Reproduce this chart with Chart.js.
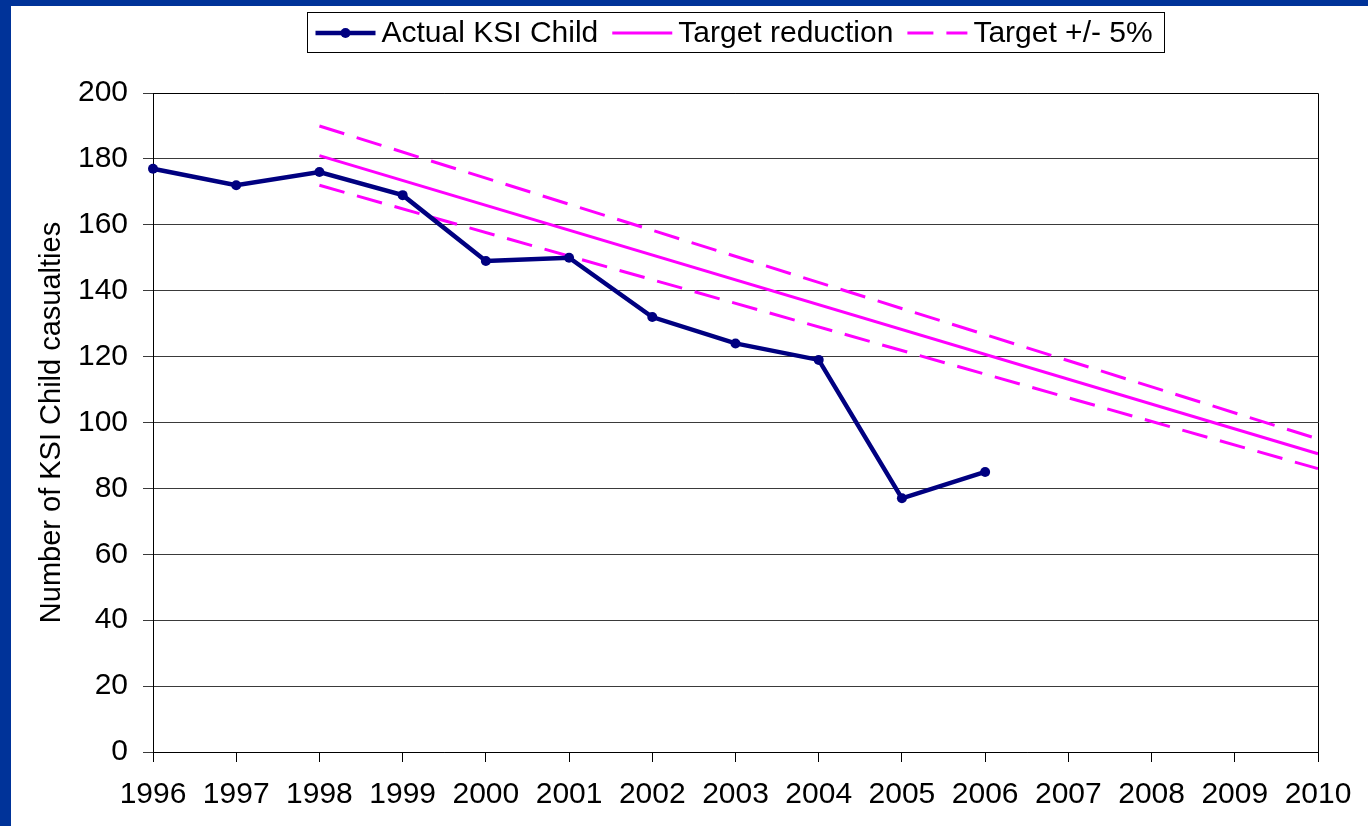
<!DOCTYPE html>
<html>
<head>
<meta charset="utf-8">
<script src="https://cdn.jsdelivr.net/npm/chart.js@4.4.1/dist/chart.umd.min.js"></script>
<style>
  html, body { margin: 0; padding: 0; background: #003399; overflow: hidden; }
  #frame { position: absolute; left: 11px; top: 6px; width: 1357px; height: 820px; background: #ffffff; }
</style>
</head>
<body>
<div id="frame"><canvas id="ksiChart" width="1357" height="820"></canvas></div>
<script>
// Values
const years = ['1996', '1997', '1998', '1999', '2000', '2001', '2002', '2003', '2004', '2005', '2006', '2007', '2008', '2009', '2010'];
const actualKsi = [177, 172, 176, 169, 149, 150, 132, 124, 119, 77, 85, null, null, null, null];
// target lines are straight, so only their end points (1998 and 2010) are given
const targetReduction = [null, null, 181, null, null, null, null, null, null, null, null, null, null, null, 90.5];
const targetUpper = [null, null, 190, null, null, null, null, null, null, null, null, null, null, null, 95];
const targetLower = [null, null, 172, null, null, null, null, null, null, null, null, null, null, null, 86];
const yTicks = { min: 0, max: 200, step: 20 };

const FONT = '"Liberation Sans", Arial, sans-serif';
const NAVY = '#000080';
const MAGENTA = '#ff00ff';
const DASH = [26, 13];

// Draws the boxed legend above the plot, centred on the chart area.
const boxLegendPlugin = {
  id: 'boxLegend',
  afterDraw: (chart) => {
    const { ctx, chartArea } = chart;
    const items = chart.data.datasets.filter(ds => !ds.hideInLegend);
    const sampleLen = 60, gap = 6, itemGap = 14, padL = 8, padR = 12;
    const boxTop = 6, boxH = 40, midY = boxTop + boxH / 2 + 1;

    ctx.save();
    ctx.font = `30px ${FONT}`;
    const widths = items.map(ds => ctx.measureText(ds.label).width);
    let total = padL + padR;
    widths.forEach((w, i) => { total += sampleLen + gap + w + (i > 0 ? itemGap : 0); });

    const boxLeft = Math.round((chartArea.left + chartArea.right) / 2 - total / 2) + 0.5;
    ctx.strokeStyle = '#000000';
    ctx.lineWidth = 1;
    ctx.strokeRect(boxLeft, boxTop + 0.5, Math.round(total), boxH);

    let x = boxLeft + padL;
    items.forEach((ds, i) => {
      if (i > 0) x += itemGap;
      ctx.beginPath();
      ctx.strokeStyle = ds.borderColor;
      ctx.lineWidth = ds.borderWidth;
      ctx.setLineDash(ds.borderDash || []);
      ctx.moveTo(x, midY);
      ctx.lineTo(x + sampleLen, midY);
      ctx.stroke();
      ctx.setLineDash([]);
      if (ds.pointRadius > 0) {
        ctx.beginPath();
        ctx.fillStyle = ds.borderColor;
        ctx.arc(x + sampleLen / 2, midY, ds.pointRadius, 0, Math.PI * 2);
        ctx.fill();
      }
      x += sampleLen + gap;
      ctx.fillStyle = '#000000';
      ctx.textBaseline = 'middle';
      ctx.textAlign = 'left';
      ctx.fillText(ds.label, x, midY + 1);
      x += widths[i];
    });
    ctx.restore();
  }
};

// Top and right border of the plot area
const plotBorderPlugin = {
  id: 'plotBorder',
  afterDatasetsDraw: (chart) => {
    const { ctx, chartArea: { left, top, right, bottom } } = chart;
    ctx.save();
    ctx.strokeStyle = '#000000';
    ctx.lineWidth = 1;
    ctx.beginPath();
    ctx.moveTo(left, Math.round(top) + 0.5);
    ctx.lineTo(Math.round(right) + 0.5, Math.round(top) + 0.5);
    ctx.lineTo(Math.round(right) + 0.5, bottom);
    ctx.stroke();
    ctx.restore();
  }
};

Chart.defaults.font.family = FONT;
Chart.defaults.color = '#000000';

new Chart(document.getElementById('ksiChart').getContext('2d'), {
  type: 'line',
  data: {
    labels: years,
    datasets: [
      {
        label: 'Actual KSI Child',
        data: actualKsi,
        borderColor: NAVY,
        backgroundColor: NAVY,
        borderWidth: 4.5,
        pointRadius: 5,
        pointHoverRadius: 5,
        pointBorderWidth: 0,
        tension: 0,
      },
      {
        label: 'Target reduction',
        data: targetReduction,
        borderColor: MAGENTA,
        borderWidth: 3,
        pointRadius: 0,
        spanGaps: true,
      },
      {
        label: 'Target +/- 5%',
        data: targetUpper,
        borderColor: MAGENTA,
        borderWidth: 3,
        borderDash: DASH,
        pointRadius: 0,
        spanGaps: true,
      },
      {
        label: 'Target +/- 5% (lower)',
        data: targetLower,
        borderColor: MAGENTA,
        borderWidth: 3,
        borderDash: DASH,
        pointRadius: 0,
        spanGaps: true,
        hideInLegend: true,
      },
    ],
  },
  options: {
    responsive: false,
    animation: false,
    devicePixelRatio: 1,
    layout: { padding: { top: 87, right: 50, bottom: 0, left: 0 } },
    plugins: {
      legend: { display: false },
      tooltip: { enabled: false },
    },
    scales: {
      x: {
        offset: false,
        grid: { drawOnChartArea: false, color: '#000000', tickLength: 10 },
        border: { color: '#000000', width: 1 },
        ticks: { font: { size: 30 }, padding: 15, maxRotation: 0, autoSkip: false },
        afterFit: (scale) => { scale.height = 74; },
      },
      y: {
        min: yTicks.min,
        max: yTicks.max,
        grid: { color: '#3a3a3a', tickLength: 10 },
        border: { color: '#000000', width: 1 },
        ticks: { stepSize: yTicks.step, font: { size: 30 }, padding: 15 },
        title: {
          display: true,
          text: 'Number of KSI Child casualties',
          font: { size: 29 },
          padding: { top: 24, bottom: 0 },
        },
        afterFit: (scale) => { scale.width = 142; },
      },
    },
  },
  plugins: [boxLegendPlugin, plotBorderPlugin],
});
</script>
</body>
</html>
